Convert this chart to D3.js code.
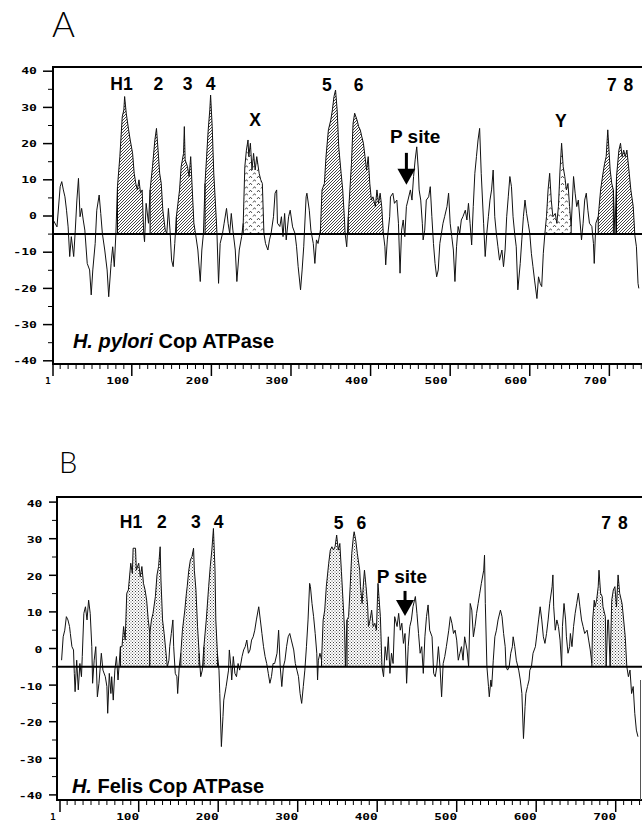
<!DOCTYPE html>
<html><head><meta charset="utf-8">
<script src="https://cdn.jsdelivr.net/npm/d3@7"></script>
<style>body{margin:0;background:#fff}svg{display:block}</style>
</head><body>
<svg id="chart" width="642" height="824"></svg>
<script>
// ---------- Panel A : H. pylori Cop ATPase (residue, hydropathy) ----------
const residuesA = [1,6,10,12,14,16,18,20,22,24,27,29,31,33,35,37,39,41,44,47,49,51,54,56,59,61,63,66,69,71,74,76,78,80,
82,85,88,90,91,93,96,98,101,103,105,107,109,111,113,115,116,118,121,123,126,129,131,133,135,137,139,142,144,146,148,150,152,154,
156,160,162,165,166,167,170,172,174,176,178,180,183,186,188,190,192,194,196,198,199,201,203,206,207,209,211,214,216,219,221,223,
225,227,230,232,235,238,240,242,244,246,247,249,251,253,255,257,260,262,264,266,268,271,273,275,278,280,282,283,286,288,290,292,
294,297,299,302,305,307,309,312,314,316,319,320,323,325,328,330,332,334,337,339,342,344,347,350,352,354,356,358,360,363,365,367,
368,370,372,374,376,378,380,383,385,387,389,391,393,395,397,399,401,403,406,408,410,412,414,416,418,419,421,424,425,428,430,433,
435,437,439,441,443,445,447,450,452,454,456,458,460,461,463,465,466,468,470,473,475,477,479,481,483,485,487,489,491,493,496,498,
500,502,504,506,508,510,512,514,516,519,521,523,525,527,529,531,533,535,537,539,542,544,546,548,550,552,554,556,558,560,562,565,
567,569,571,573,575,577,579,581,583,585,588,590,592,594,596,598,600,602,604,606,609,611,613,615,617,619,621,623,625,627,629,632,
634,636,638,640,642,644,646,648,650,652,655,657,659,661,663,665,667,669,671,673,675,678,680,681,683,686,689,692,694,696,698,701,
703,705,707,709,712,714,716,718,720,722,725,727,730,732,734,736,737];
const valuesA = [-1,-3,8.1,9.5,7.2,5.3,1.6,-3,-11.2,-5.7,-11.2,-3.9,4.4,10.4,-0.2,2.1,-1.1,-3.9,-13.1,-14.9,-21.8,-14.9,-7.6,1.6,5.8,0.7,-4.8,-9.4,-14.9,-22.3,-13.1,-8.5,-14,-4.8,
8.1,16.4,27.4,29.3,33,28.4,23.8,21,17.3,11.8,9,7.2,10,6.3,7.2,-4.8,-7.1,3.5,-2,7.2,13.6,21,24.2,18.2,11.8,9,1.6,-3.9,-4.8,2.1,-3.9,-12.2,-14,-7.6,
-0.2,7.2,13.6,17.3,24.7,15.5,13.6,10.9,16.4,7.2,-2,-4.8,-9.4,-18.1,-9.4,-4.8,9,16.4,23.8,29.3,33.4,24.7,11.8,-0.2,-4.8,-18.6,-7.6,-4.8,-2,2.1,-2,-4.8,
0.7,-3.9,-9.4,-18.1,-9.4,-5.7,-2,13.6,18.2,21,16.4,20.1,12.7,17.3,12.7,16.4,11.8,10,9,-4.8,-7.6,-9.4,-6.6,-4.8,-0.2,6.3,7.2,-2,-2.9,-0.2,-5.7,0.7,
-6.6,-0.2,1.6,-3,-4.8,-8.5,-14,-20.4,-14.9,-8.5,5.3,6.3,1.6,-3.9,-7.6,-13.1,-6.6,-7.6,-3.9,7.2,9,16.4,23.8,26.5,29.3,33,34.8,29.3,19.1,11.8,7.2,-0.2,
-4.8,-8.5,-0.2,7.2,14.5,25.6,28.4,26.5,24.7,23.8,21.9,20.1,16.4,12.7,16.4,9,4.4,5.3,2.6,7.2,3.5,6.3,2.6,-4.8,-8.5,-13.5,-6.6,-0.2,5.3,6.3,3.5,4.4,
-2,-15.8,-3.9,-1.1,-5.7,2.6,4.4,7.2,4.4,10.9,15.5,19.1,12.7,7.2,4.4,-2,-6.6,-3.9,4.4,5.3,8.1,-0.2,-7.6,-13.1,-16.8,-14.9,-7.6,-4.8,-2,-0.2,2.6,6.3,
-2,-5.7,-9.4,-18.1,-8.5,-2.9,-4.8,-1.1,-0.2,1.6,-1.1,3.5,-2,-8,2.6,11.8,16.4,21,24.2,11.8,-2,-11.2,-4.8,-0.2,4.4,7.2,12.7,-0.2,-4.8,-8.5,-12.2,-9.4,
-14,-9.4,-0.2,5.3,10.9,8.1,-0.2,-4.8,-8.5,-20.4,-13.1,-6.6,-0.2,4.4,0.7,-2,-4.8,-10.3,-14,-17.7,-22.8,-16.8,-18.6,-19.5,-10.3,-4.8,-0.2,7.2,11.8,4.4,-0.2,0.7,
-2,2.6,12.7,20.1,13.6,10.9,7.2,9,2.6,-2.9,10.9,6.3,2.6,4.4,-1.1,-6.6,-2,4.4,6.3,1.6,-2,-2.9,-7.6,-13.1,-2,-0.2,7.2,11.8,14.5,16.4,23.8,12.7,
9,7.2,-4.8,10.9,18.2,20.1,16.4,18.2,16.4,18.2,11.8,7.2,2.6,-5.3,-8.5,-18.6,-20];
const regionNamesA = ["H1","2","3","4","X","5","6","Y","7","8"];
const regionStartA = [82,123,156,192,240,337,372,619,686,709];
const regionEndA   = [115,144,180,207,266,368,416,652,705,732];
const regionKindA  = ["tm","tm","tm","tm","loop","tm","tm","loop","tm","tm"];
const labelTextA = ["H1","2","3","4","X","5","6","P site","Y","7","8"];
const labelResA  = [87,133.5,170,199,255,345,385,456,639,703,724];
const labelValA  = [34.8,34.8,34.8,34.8,24.9,34.6,34.6,20.2,24.7,34.6,34.6];
const arrowA = {res:445, val:8.6};
const titleA = {res:26, val:-36.5};

// ---------- Panel B : H. felis Cop ATPase ----------
const residuesB = [3,5,7,9,11,13,14,16,18,19,20,22,24,26,28,29,31,33,35,37,39,41,42,44,46,48,50,53,55,58,60,61,63,65,66,68,70,72,74,
77,79,81,83,85,87,90,92,93,96,97,100,102,104,106,108,110,112,114,116,118,121,123,125,127,128,130,132,134,136,138,139,141,143,144,146,148,149,151,
153,155,158,160,161,163,165,167,169,170,172,174,176,178,180,182,185,188,190,192,194,196,197,199,201,202,204,206,207,210,213,214,216,217,219,221,223,
225,227,230,232,234,236,238,240,242,244,246,248,251,253,255,257,259,261,263,265,267,269,271,274,276,278,280,282,284,286,288,290,292,295,297,299,301,
303,305,307,309,311,313,315,316,318,320,322,324,325,326,328,330,332,334,336,339,341,343,345,347,349,351,353,355,357,359,360,362,364,366,368,370,371,
373,375,378,379,381,383,384,386,388,389,391,393,395,397,399,401,404,406,408,410,412,414,416,418,420,422,425,427,429,431,433,435,437,439,441,443,445,
448,450,452,454,456,458,460,462,464,466,469,471,473,475,477,479,481,483,485,487,490,492,494,496,498,500,502,504,506,508,510,513,515,517,519,521,523,
525,527,529,531,534,535,536,538,540,541,543,544,546,548,550,552,555,557,559,561,562,564,566,568,570,571,573,575,578,580,582,584,586,587,589,591,592,
594,596,599,601,603,605,607,609,611,613,615,617,620,621,622,624,626,628,630,632,633,635,637,638,640,642,643,645,647,649,651,653,655,657,659,661,664,
666,668,670,671,673,674,676,678,679,681,683,684,687,688,690,691,693,695,697,699,701,703,705,708,710,712,714,716,718,720,722,724,726,728];
const valuesB = [-3.2,3.2,5,8.7,7.8,6,4.1,0.5,-0.4,-6.8,-11.8,-3.2,-11.3,-4.1,-7.7,-2.2,9.6,11.4,7.8,13.2,9.6,0.5,-9.5,-3.2,0.5,-13.2,-9.5,-1.3,-5.9,-7.7,-10.4,-17.7,-6.8,-12.3,-7.7,-14.1,-5.9,-2.2,-8.6,
0.5,0.5,6,2.3,15.1,16,23.3,20.5,27.4,27.4,21.4,23.3,19.6,22.4,17.8,16,13.2,7.8,4.1,7.8,9.6,14.2,20.1,22.4,27.8,18.7,7.8,4.1,-0.4,-5,-3.2,0.5,4.1,7.8,0.5,-6.8,-7.7,-12.3,-5,
-1.3,5,10.5,15.1,16.9,21.4,24.2,25.1,27.4,21.4,16,6,-1.3,-7.7,-5.9,0.5,7.8,16.9,22.4,26.9,32.8,21.4,7.8,-1.3,-5.9,-12.3,-26.8,-18.6,-14.1,-10.4,-5.9,-0.4,-5,-8.6,-2.2,-6.8,-7.7,
-4.1,-5.9,-2.2,-0.4,0.5,2.3,-1.3,-0.4,2.3,3.2,5,7.8,11.4,7.8,4.1,0.5,-2.2,-4.1,-6.8,-9.5,-7.7,-4.1,-4.1,-1.3,5,-5,-10.4,-5,-3.2,0.5,3.2,4.1,2.3,-0.4,-4.1,-5.9,-7.7,
-12.3,-15,-10.4,-5.9,0.5,7.8,17.8,16.9,12.3,8.7,4.1,-1.3,-8.6,-3.2,-1.3,-3.2,7.8,10.5,16.9,23.3,26.9,27.8,26.9,27.8,31,26.9,28.7,21,13,5,-5,7.8,8.7,16.9,26,30.5,31.9,
29.6,26,21.4,16.9,12.3,18.7,21.4,16.9,11.4,6,7.8,10.5,6,6.9,5,17.8,8.7,-5,-7.7,0.5,-3.2,3.2,-6.8,-1.3,-4.1,8.7,6,9.6,5,6.9,1.4,4.1,-9.5,0.5,6,7.8,11.4,
14.2,9.6,4.1,-1.3,0.5,-6.8,3.2,8.7,11.9,5,3.2,-6.8,-7.7,-5,0.5,-5,-13.2,-4.1,-2.2,0.5,5,8.7,6.9,4.1,5,2.3,-3.2,-1.3,0.5,-3.2,3.2,-0.4,-5,12.3,10.5,3.2,6,
9.6,12.3,15.1,17.8,21.4,25.5,12.3,-5,-10.4,-13.2,-8.6,-10.4,-3.2,3.2,5,7.8,10.5,8.7,4.1,0.5,-5,-5.9,-5,-1.3,0.5,3.2,0.5,-3.2,-5.9,-8.6,-12.3,-24.6,-15.9,-12.3,-10.4,-8.6,-5.9,
-5,-1.3,0.5,4.1,7.8,11.4,7.8,3.2,1.4,4.1,7.8,12.3,16.9,20.1,11.4,5,7.8,6,2.3,-5,6,12.3,7.8,3.2,-1.3,0.5,4.1,0.5,6,9.6,12.3,15.1,11.4,7.8,6,4.1,5,
2.3,-0.4,-4.1,7.8,13.2,11.4,13.2,16.9,21.4,15.1,14.2,11.4,8.7,-5,7.8,7.8,-5,13.2,16,16.9,11.4,20.1,15.1,12.3,7.8,3.2,-5,-7.7,-5.9,-12.3,-10.4,-17.7,-22.3,-24.1];
const regionNamesB = ["H1","2","3","4","5","6","7","8"];
const regionStartB = [77,114,153,182,330,362,670,693];
const regionEndB   = [114,136,176,199,360,406,688,714];
const labelTextB = ["H1","2","3","4","5","6","P site","7","8"];
const labelResB  = [90.3,129,172,200.6,351.6,380,431,688,709];
const labelValB  = [32.9,32.9,32.9,32.9,32.6,32.6,18,32.6,32.6];
const arrowB = {res:435, val:8.9};
const titleB = {res:16, val:-39.5};

// ---------- shared axis values ----------
const yTickValues = [40,30,20,10,0,-10,-20,-30,-40];
const yMinorValues = [35,25,15,5,-5,-15,-25,-35];
const xTickValues = [1,100,200,300,400,500,600,700];
const baselineValue = -5;

const svg = d3.select("#chart");
const defs = svg.append("defs");
const hatch = defs.append("pattern").attr("id","hatch").attr("patternUnits","userSpaceOnUse").attr("width",3).attr("height",3);
hatch.append("rect").attr("width",3).attr("height",3).attr("fill","#fff");
hatch.append("path").attr("d","M-0.75,0.75 L0.75,-0.75 M0,3 L3,0 M2.25,3.75 L3.75,2.25").attr("stroke","#111").attr("stroke-width",0.8);
const zig = defs.append("pattern").attr("id","zig").attr("patternUnits","userSpaceOnUse").attr("width",8).attr("height",7);
zig.append("rect").attr("width",8).attr("height",7).attr("fill","#fff");
zig.append("path").attr("d","M1,3 L2.5,1.2 L4,3 M5,6.5 L6.5,4.7 L8,6.5").attr("stroke","#222").attr("stroke-width",0.8).attr("fill","none");
const dots = defs.append("pattern").attr("id","dots").attr("patternUnits","userSpaceOnUse").attr("width",3).attr("height",3);
dots.append("rect").attr("width",3).attr("height",3).attr("fill","#fff");
dots.append("rect").attr("x",0).attr("y",0).attr("width",1).attr("height",1).attr("fill","#444");
dots.append("rect").attr("x",1.5).attr("y",1.5).attr("width",1).attr("height",1).attr("fill","#666");

function drawPanel(cfg){
  const g = svg.append("g");
  const x = d3.scaleLinear().domain(cfg.xDomain).range(cfg.xRange);
  const y = d3.scaleLinear().domain([-40,40]).range(cfg.yRange);
  const pts = cfg.res.map((r,i)=>[r, cfg.val[i]]);

  // panel letter
  g.append("text").attr("x",cfg.letterX).attr("y",cfg.letterY).text(cfg.letter)
    .attr("font-family","Lato, 'Liberation Sans', sans-serif").attr("font-weight",300)
    .attr("font-size",cfg.letterSize).attr("fill","#000");

  // shaded regions
  const area = d3.area().x(d=>x(d[0])).y0(y(baselineValue)).y1(d=>y(Math.max(d[1],baselineValue)));
  cfg.regStart.forEach((s,i)=>{
    const e = cfg.regEnd[i];
    const seg = pts.filter(p=>p[0]>=s && p[0]<=e);
    g.append("path").datum(seg).attr("d",area).attr("fill",`url(#${cfg.regFill[i]})`).attr("stroke","none");
    [seg[0], seg[seg.length-1]].forEach(p=>{
      g.append("line").attr("x1",x(p[0])).attr("x2",x(p[0]))
        .attr("y1",y(baselineValue)).attr("y2",y(Math.max(p[1],baselineValue)))
        .attr("stroke","#000").attr("stroke-width",1);
    });
  });

  // profile line
  g.append("path").datum(pts).attr("d",d3.line().x(d=>x(d[0])).y(d=>y(d[1])))
    .attr("fill","none").attr("stroke","#111").attr("stroke-width",1).attr("stroke-linejoin","round");

  // baseline
  g.append("line").attr("x1",cfg.frameL).attr("x2",642).attr("y1",y(baselineValue)).attr("y2",y(baselineValue))
    .attr("stroke","#000").attr("stroke-width",2);

  // frame
  g.append("line").attr("x1",cfg.frameL).attr("x2",642).attr("y1",cfg.frameT).attr("y2",cfg.frameT).attr("stroke","#000").attr("stroke-width",2);
  g.append("line").attr("x1",cfg.frameL).attr("x2",cfg.frameL).attr("y1",cfg.frameT-1).attr("y2",cfg.frameB+1).attr("stroke","#000").attr("stroke-width",2);
  g.append("line").attr("x1",cfg.frameL).attr("x2",642).attr("y1",cfg.frameB).attr("y2",cfg.frameB).attr("stroke","#000").attr("stroke-width",2);
  if (cfg.rightEdge) {
    g.append("line").attr("x1",640.5).attr("x2",640.5).attr("y1",cfg.rightEdge).attr("y2",cfg.frameB).attr("stroke","#555").attr("stroke-width",1);
  }

  // y ticks
  const tf = "'DejaVu Sans Mono', monospace";
  yTickValues.forEach(v=>{
    g.append("line").attr("x1",cfg.frameL-cfg.yMajor).attr("x2",cfg.frameL).attr("y1",y(v)).attr("y2",y(v)).attr("stroke","#000").attr("stroke-width",1.5);
    const s = String(v);
    g.append("text").attr("x",cfg.yLabelRight).attr("y",y(v)).attr("dy",cfg.yLabelDy)
      .attr("text-anchor","end").attr("font-family",tf).attr("font-weight","bold").attr("font-size",9)
      .attr("textLength",s.length*7.9).attr("lengthAdjust","spacingAndGlyphs").text(s);
  });
  yMinorValues.forEach(v=>{
    g.append("line").attr("x1",cfg.frameL-5).attr("x2",cfg.frameL).attr("y1",y(v)).attr("y2",y(v)).attr("stroke","#000").attr("stroke-width",1);
  });

  // x ticks
  d3.range(10, 741, 10).filter(v=>v%100!==0).forEach(v=>{
    g.append("line").attr("x1",x(v)).attr("x2",x(v)).attr("y1",cfg.frameB).attr("y2",cfg.frameB+5).attr("stroke","#000").attr("stroke-width",1);
  });
  xTickValues.forEach(v=>{
    g.append("line").attr("x1",x(v)).attr("x2",x(v)).attr("y1",cfg.frameB).attr("y2",cfg.frameB+12).attr("stroke","#000").attr("stroke-width",1.5);
    const s = String(v);
    const t = g.append("text").attr("x",x(v) + (v===1 ? cfg.oneOffset : cfg.xLabelOffset)).attr("y",cfg.xLabelY)
      .attr("text-anchor","middle").attr("font-family",tf).attr("font-weight","bold").attr("font-size",9).text(s);
    if (s.length>1) t.attr("textLength",s.length*7.7).attr("lengthAdjust","spacingAndGlyphs");
  });

  // segment labels
  const lf = "'Liberation Sans', Arial, sans-serif";
  cfg.labText.forEach((t,i)=>{
    g.append("text").attr("x",x(cfg.labRes[i])).attr("y",y(cfg.labVal[i])).attr("text-anchor","middle")
      .attr("font-family",lf).attr("font-weight","bold").attr("font-size", t==="P site"?19:17.5).text(t);
  });

  // P-site arrow
  const ax = x(cfg.arrow.res), ay = y(cfg.arrow.val);
  g.append("rect").attr("x",ax-1.5).attr("y",ay-cfg.arrowLen).attr("width",3).attr("height",cfg.arrowLen-14).attr("fill","#000");
  g.append("path").attr("d",`M${ax-9},${ay-16} L${ax+9},${ay-16} L${ax},${ay} Z`).attr("fill","#000");

  // title
  const tt = g.append("text").attr("x",x(cfg.title.res)).attr("y",y(cfg.title.val))
    .attr("font-family",lf).attr("font-weight","bold").attr("font-size",20);
  tt.append("tspan").attr("font-style","italic").text(cfg.titleItalic);
  tt.append("tspan").text(cfg.titleRest);
}

drawPanel({
  res: residuesA, val: valuesA,
  xDomain:[1,741], xRange:[53,642], yRange:[360.8,71.2],
  frameL:53, frameT:67, frameB:364,
  regStart: regionStartA, regEnd: regionEndA,
  regFill: regionKindA.map(k=>k==="tm"?"hatch":"zig"),
  labText: labelTextA, labRes: labelResA, labVal: labelValA,
  arrow: arrowA, arrowLen: 32, title: titleA,
  titleItalic: "H. pylori", titleRest: " Cop ATPase",
  yMajor:10, yLabelRight:37, yLabelDy:"0.36em",
  xLabelOffset:-14, oneOffset:-5, xLabelY:384,
  letter:"A", letterX:52, letterY:37, letterSize:35
});

drawPanel({
  res: residuesB, val: valuesB,
  xDomain:[1,740], xRange:[60,647.5], yRange:[794.9,502.1],
  frameL:57, frameT:497, frameB:800,
  regStart: regionStartB, regEnd: regionEndB,
  regFill: regionStartB.map(()=>"dots"),
  labText: labelTextB, labRes: labelResB, labVal: labelValB,
  arrow: arrowB, arrowLen: 25, title: titleB,
  titleItalic: "H.", titleRest: " Felis Cop ATPase",
  yMajor:8, yLabelRight:42.5, yLabelDy:"0.5em",
  xLabelOffset:-11, oneOffset:-7, xLabelY:820,
  letter:"B", letterX:59, letterY:473, letterSize:29,
  rightEdge: 680
});
</script>
</body></html>
